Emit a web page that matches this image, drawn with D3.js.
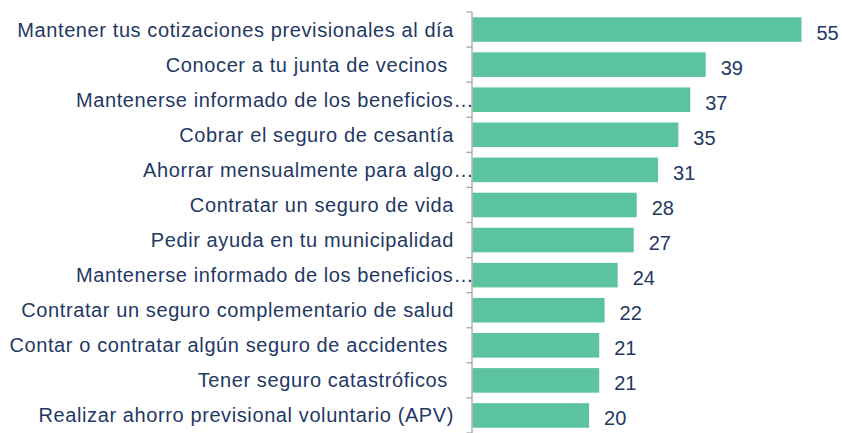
<!DOCTYPE html>
<html>
<head>
<meta charset="utf-8">
<script src="https://cdn.jsdelivr.net/npm/d3@7"></script>
<style>
  html, body { margin: 0; padding: 0; background: #fff; }
  svg { display: block; }
  text { font-family: "Liberation Sans", Arial, sans-serif; fill: #1F3864; white-space: pre; }
</style>
</head>
<body>
<svg id="chart" width="842" height="433"></svg>
<script>
const categories = [
  "Mantener tus cotizaciones previsionales al día",
  "Conocer a tu junta de vecinos ",
  "Mantenerse informado de los beneficios…",
  "Cobrar el seguro de cesantía",
  "Ahorrar mensualmente para algo…",
  "Contratar un seguro de vida",
  "Pedir ayuda en tu municipalidad",
  "Mantenerse informado de los beneficios…",
  "Contratar un seguro complementario de salud",
  "Contar o contratar algún seguro de accidentes ",
  "Tener seguro catastróficos ",
  "Realizar ahorro previsional voluntario (APV)"
];
// bar lengths
const values = [55.3, 39.2, 36.6, 34.6, 31.2, 27.6, 27.1, 24.4, 22.2, 21.3, 21.3, 19.6];
// rounded data labels shown next to bars
const valueLabels = ["55", "39", "37", "35", "31", "28", "27", "24", "22", "21", "21", "20"];

const svg = d3.select("#chart");
const x0 = 472.5;
const x = d3.scaleLinear().domain([0, 55.3]).range([x0, 801.5]);
const idx = d3.range(categories.length);
const y = d3.scaleBand().domain(idx).range([12, 433]).paddingInner(0.3).paddingOuter(0.15);

// bars
svg.append("g").selectAll("rect").data(idx).join("rect")
  .attr("x", x(0))
  .attr("y", i => y(i))
  .attr("width", i => x(values[i]) - x(0))
  .attr("height", y.bandwidth())
  .attr("fill", "#5BC39E");

// axis line + ticks
const step = y.step();
const ax = svg.append("g").attr("stroke", "#A6A6A6").attr("stroke-width", 1.3);
ax.append("line").attr("x1", x0 - 0.5).attr("x2", x0 - 0.5).attr("y1", 12).attr("y2", 433);
const tickYs = idx.map(i => y(i) - step * 0.15).concat([y(11) + y.bandwidth() + step * 0.15]);
ax.selectAll("line.t").data(tickYs).join("line").attr("class", "t")
  .attr("x1", x0 - 6).attr("x2", x0 - 0.5)
  .attr("y1", d => d).attr("y2", d => d);

// category labels
svg.append("g").selectAll("text").data(idx).join("text")
  .attr("x", i => categories[i].endsWith("…") ? 474 : 454)
  .attr("y", i => y(i) + y.bandwidth() / 2)
  .attr("dy", "0.35em")
  .attr("text-anchor", "end")
  .attr("font-size", 20)
  .attr("letter-spacing", "0.6px")
  .text(i => categories[i]);

// value labels
svg.append("g").selectAll("text").data(idx).join("text")
  .attr("x", i => x(values[i]) + 15)
  .attr("y", i => y(i) + y.bandwidth() / 2 + 3)
  .attr("dy", "0.35em")
  .attr("font-size", 20)
  .text(i => valueLabels[i]);
</script>
</body>
</html>
